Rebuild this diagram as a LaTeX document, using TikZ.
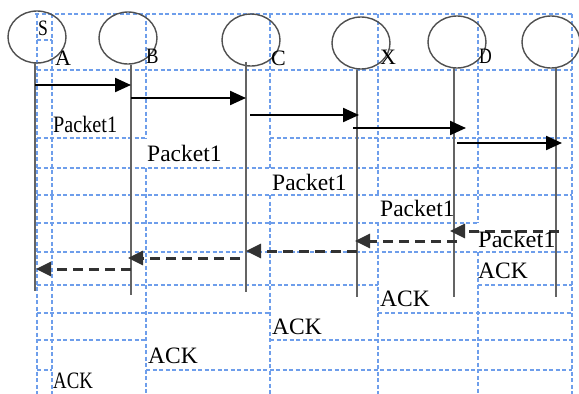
\documentclass[tikz,border=0pt]{standalone}
\usepackage{fontspec}
\usepackage{graphicx}
\setmainfont{Liberation Serif}
\usetikzlibrary{arrows.meta,shapes.geometric}
\definecolor{gridblue}{RGB}{110,158,235}
\definecolor{lifegray}{RGB}{100,100,100}
\definecolor{ringgray}{RGB}{80,80,80}
\definecolor{ackgray}{RGB}{50,50,50}

\begin{document}
\begin{tikzpicture}[x=1pt,y=-1pt,
  cellrule/.style={draw=gridblue, line width=1.2pt, dash pattern=on 4pt off 2.5pt},
  actor/.style={ellipse, draw=ringgray, line width=1.4pt, minimum width=58pt, minimum height=52pt, inner sep=0pt},
  lifeline/.style={draw=lifegray, line width=2.7pt},
  sendmsg/.style={draw=black, line width=2.2pt, -{Triangle[length=16pt,width=14pt]}},
  ackmsg/.style={draw=ackgray, line width=3pt, dash pattern=on 10pt off 6pt, -{Triangle[length=15pt,width=14pt]}},
  tag/.style={anchor=base west, inner sep=0pt, font=\fontsize{22}{22}\selectfont},
  msgtext/.style={anchor=base west, inner sep=0pt, font=\fontsize{23.5}{24}\selectfont}
]
\useasboundingbox (0,0) rectangle (579,394);

% table rules behind the chart
\begin{scope}[every path/.style={cellrule}]
  \draw (35,14) -- (572,14);
  \draw (37,40) -- (52,40);
  \draw (37,70) -- (572,70);
  \draw (37,138) -- (146,138) (270,138) -- (572,138);
  \draw (37,168) -- (572,168);
  \draw (37,195) -- (572,195);
  \draw (37,223) -- (478,223);
  \draw (37,252) -- (572,252);
  \draw (37,285) -- (378,285) (478,285) -- (572,285);
  \draw (37,313) -- (270,313) (378,313) -- (572,313);
  \draw (37,340) -- (146,340) (270,340) -- (572,340);
  \draw (37,370) -- (52,370) (146,370) -- (572,370);
  \draw (37,14) -- (37,394);
  \draw (52,14) -- (52,394);
  \draw (146,14) -- (146,138) (146,168) -- (146,394);
  \draw (270,14) -- (270,168) (270,195) -- (270,394);
  \draw (378,14) -- (378,195) (378,222) -- (378,394);
  \draw (478,14) -- (478,223) (478,252) -- (478,394);
  \draw (572,14) -- (572,394);
\end{scope}

% participants
\node[actor] (cS) at (37,37) {};
\node[actor] (cA) at (128,38) {};
\node[actor] (cC) at (251,40) {};
\node[actor] (cX) at (361,43) {};
\node[actor] (cD) at (457,42) {};
\node[actor] (cE) at (551,42) {};

% lifelines
\coordinate (tS) at (35,63);  \coordinate (bS) at (35,291);
\coordinate (tA) at (131,65); \coordinate (bA) at (131,295);
\coordinate (tC) at (246,62); \coordinate (bC) at (246,292);
\coordinate (tX) at (357,70); \coordinate (bX) at (357,297);
\coordinate (tD) at (454,68); \coordinate (bD) at (454,297);
\coordinate (tE) at (556,68); \coordinate (bE) at (556,297);
\draw[lifeline] (tS) -- (bS);
\draw[lifeline] (tA) -- (bA);
\draw[lifeline] (tC) -- (bC);
\draw[lifeline] (tX) -- (bX);
\draw[lifeline] (tD) -- (bD);
\draw[lifeline] (tE) -- (bE);

% participant letters
\node[tag] (nS) at (38,35) {\scalebox{0.8}[1]{S}};
\node[tag] (nA) at (55,65) {A};
\node[tag] (nB) at (146,63) {\scalebox{0.85}[1]{B}};
\node[tag] (nC) at (271,65) {C};
\node[tag] (nX) at (380,64) {X};
\node[tag] (nD) at (479,63) {\scalebox{0.8}[1]{D}};

% forwarded packet
\coordinate (f1a) at (35,85);  \coordinate (f1b) at (131,85);
\coordinate (f2a) at (131,98); \coordinate (f2b) at (246,98);
\coordinate (f3a) at (250,115); \coordinate (f3b) at (359,115);
\coordinate (f4a) at (353,128); \coordinate (f4b) at (466,128);
\coordinate (f5a) at (457,143); \coordinate (f5b) at (562,143);
\draw[sendmsg] (f1a) -- (f1b);
\draw[sendmsg] (f2a) -- (f2b);
\draw[sendmsg] (f3a) -- (f3b);
\draw[sendmsg] (f4a) -- (f4b);
\draw[sendmsg] (f5a) -- (f5b);

% acknowledgements travelling back
\coordinate (k1a) at (559,231); \coordinate (k1b) at (450,231);
\coordinate (k2a) at (457,241); \coordinate (k2b) at (355,241);
\coordinate (k3a) at (357,251); \coordinate (k3b) at (246,251);
\coordinate (k4a) at (240,258); \coordinate (k4b) at (128,258);
\coordinate (k5a) at (131,269); \coordinate (k5b) at (36,269);
\draw[ackmsg] (k1a) -- (k1b);
\draw[ackmsg] (k2a) -- (k2b);
\draw[ackmsg] (k3a) -- (k3b);
\draw[ackmsg] (k4a) -- (k4b);
\draw[ackmsg] (k5a) -- (k5b);

% message captions
\node[msgtext] (m1) at (53,132) {\scalebox{0.86}[1]{Packet1}};
\node[msgtext] (m2) at (147,161) {Packet1};
\node[msgtext] (m3) at (272,190) {Packet1};
\node[msgtext] (m4) at (380,216) {Packet1};
\node[msgtext] (m5) at (478,247) {\scalebox{1.04}[1]{Packet1}};
\node[msgtext] (a1) at (478,278) {ACK};
\node[msgtext] (a2) at (380,306) {ACK};
\node[msgtext] (a3) at (272,334) {ACK};
\node[msgtext] (a4) at (148,363) {ACK};
\node[msgtext] (a5) at (53,388) {\scalebox{0.8}[1]{ACK}};
\end{tikzpicture}
\end{document}
